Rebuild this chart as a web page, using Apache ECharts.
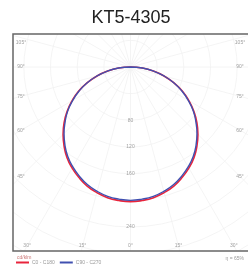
<!DOCTYPE html>
<html>
<head>
<meta charset="utf-8">
<style>
  html, body { margin: 0; padding: 0; background: #fff; }
  #chart { width: 248px; height: 267px; }
</style>
<script src="https://cdn.jsdelivr.net/npm/echarts@6/dist/echarts.min.js"></script>
</head>
<body>
<div id="chart"></div>
<script>
const chartTitle = 'KT5-4305'
const unitLabel = 'cd/klm'
const efficiencyLabel = 'η = 65%'
const legendNames = ['C0 - C180', 'C90 - C270']

// gamma angles (deg) and luminous intensity (cd/klm)
const gammas = [0, 5, 10, 15, 20, 25, 30, 35, 40, 45, 50, 55, 60, 65, 70, 75, 80, 85, 90]
const c0c180 = [202, 201, 199, 195, 190, 183, 175, 166, 155, 143, 130, 116, 101, 86, 69, 52, 35, 18, 0]
const c90c270 = [200, 199, 197, 193, 188, 181, 173, 164, 153, 141, 128, 115, 100, 85, 69, 52, 35, 18, 0]

const angleTicks = [105, 90, 75, 60, 45, 30, 15, 0]
const radialTicks = [80, 120, 160, 240]

const RED = '#e8243c'
const BLUE = '#4050b0'
const GRID = '#f1f1f1'

// one half on each side of nadir: right side 270..360, left side 0..90
function mirror(vals) {
  const right = gammas.map((g, i) => [vals[i], 360 - g]).reverse()
  const left = gammas.map((g, i) => [vals[i], g])
  return right.concat(left)
}

const chart = echarts.init(document.getElementById('chart'))

chart.setOption({
  animation: false,
  title: {
    text: chartTitle,
    left: 131,
    top: 9,
    padding: 0,
    textAlign: 'center',
    z: 100,
    textStyle: { fontSize: 18, fontWeight: 'normal', color: '#222', fontFamily: 'Liberation Sans' },
  },
  legend: {
    data: legendNames,
    left: 16,
    top: 260,
    padding: 0,
    icon: 'rect',
    itemWidth: 13,
    itemHeight: 2,
    itemGap: 5,
    z: 100,
    textStyle: { fontSize: 5, color: '#999', padding: [0, 0, 0, -2] },
  },
  polar: { center: [130.5, 67], radius: 240 },
  angleAxis: {
    type: 'value',
    min: 0,
    max: 360,
    interval: 15,
    startAngle: 270,
    clockwise: true,
    axisLine: { show: false },
    axisTick: { show: false },
    axisLabel: { show: false },
    splitLine: { lineStyle: { color: GRID, width: 0.8 } },
  },
  radiusAxis: {
    type: 'value',
    min: 0,
    max: 360,
    interval: 40,
    axisLine: { show: false },
    axisTick: { show: false },
    axisLabel: { show: false },
    splitLine: { lineStyle: { color: GRID, width: 0.8 } },
  },
  series: [
    {
      name: legendNames[0],
      type: 'line',
      coordinateSystem: 'polar',
      data: mirror(c0c180),
      showSymbol: false,
      smooth: true,
      itemStyle: { color: RED },
      lineStyle: { color: RED, width: 1.6 },
      z: 3,
    },
    {
      name: legendNames[1],
      type: 'line',
      coordinateSystem: 'polar',
      data: mirror(c90c270),
      showSymbol: false,
      smooth: true,
      itemStyle: { color: BLUE },
      lineStyle: { color: BLUE, width: 1.4 },
      z: 4,
    },
  ],
})

// frame of the diagram; grid outside it is hidden
const frame = { left: 13, top: 34, right: 251, bottom: 251 }
const labelBox = { left: 21, right: 240, top: 43, bottom: 246 }

function edgePoint(a) {
  const p0 = chart.convertToPixel({ seriesIndex: 0 }, [0, a])
  const p1 = chart.convertToPixel({ seriesIndex: 0 }, [100, a])
  const dx = p1[0] - p0[0]
  const dy = p1[1] - p0[1]
  let t = Infinity
  if (dx < -1e-6) t = Math.min(t, (labelBox.left - p0[0]) / dx)
  if (dx > 1e-6) t = Math.min(t, (labelBox.right - p0[0]) / dx)
  if (dy > 1e-6) t = Math.min(t, (labelBox.bottom - p0[1]) / dy)
  const x = p0[0] + dx * t
  const y = Math.max(labelBox.top, p0[1] + dy * t)
  return [x, y]
}

const small = { fontSize: 5, fill: '#a0a0a0', fontFamily: 'Liberation Sans', align: 'center', verticalAlign: 'middle' }
const graphics = [
  { type: 'rect', z: 50, silent: true, shape: { x: 0, y: 0, width: 248, height: frame.top }, style: { fill: '#fff' } },
  { type: 'rect', z: 50, silent: true, shape: { x: 0, y: 0, width: frame.left, height: 267 }, style: { fill: '#fff' } },
  { type: 'rect', z: 50, silent: true, shape: { x: 0, y: frame.bottom, width: 248, height: 267 - frame.bottom }, style: { fill: '#fff' } },
  {
    type: 'rect', z: 60, silent: true,
    shape: { x: frame.left, y: frame.top, width: frame.right - frame.left, height: frame.bottom - frame.top },
    style: { fill: 'none', stroke: '#666', lineWidth: 1.5 },
  },
  { type: 'text', z: 100, x: 17, y: 258, style: { text: unitLabel, fontSize: 5, fill: '#c77', fontFamily: 'Liberation Sans', verticalAlign: 'middle' } },
  { type: 'text', z: 100, x: 244, y: 259, style: { text: efficiencyLabel, fontSize: 5, fill: '#999', fontFamily: 'Liberation Sans', align: 'right', verticalAlign: 'middle' } },
]

angleTicks.forEach(a => {
  const sides = a === 0 ? [0] : [a, 360 - a]
  sides.forEach(s => {
    const p = edgePoint(s)
    graphics.push({ type: 'text', z: 100, x: p[0], y: p[1], style: Object.assign({ text: a + '°' }, small) })
  })
})

radialTicks.forEach(v => {
  const p = chart.convertToPixel({ seriesIndex: 0 }, [v, 0])
  graphics.push({ type: 'text', z: 100, x: p[0], y: p[1], style: Object.assign({ text: String(v) }, small) })
})

chart.setOption({ graphic: graphics })
</script>
</body>
</html>
